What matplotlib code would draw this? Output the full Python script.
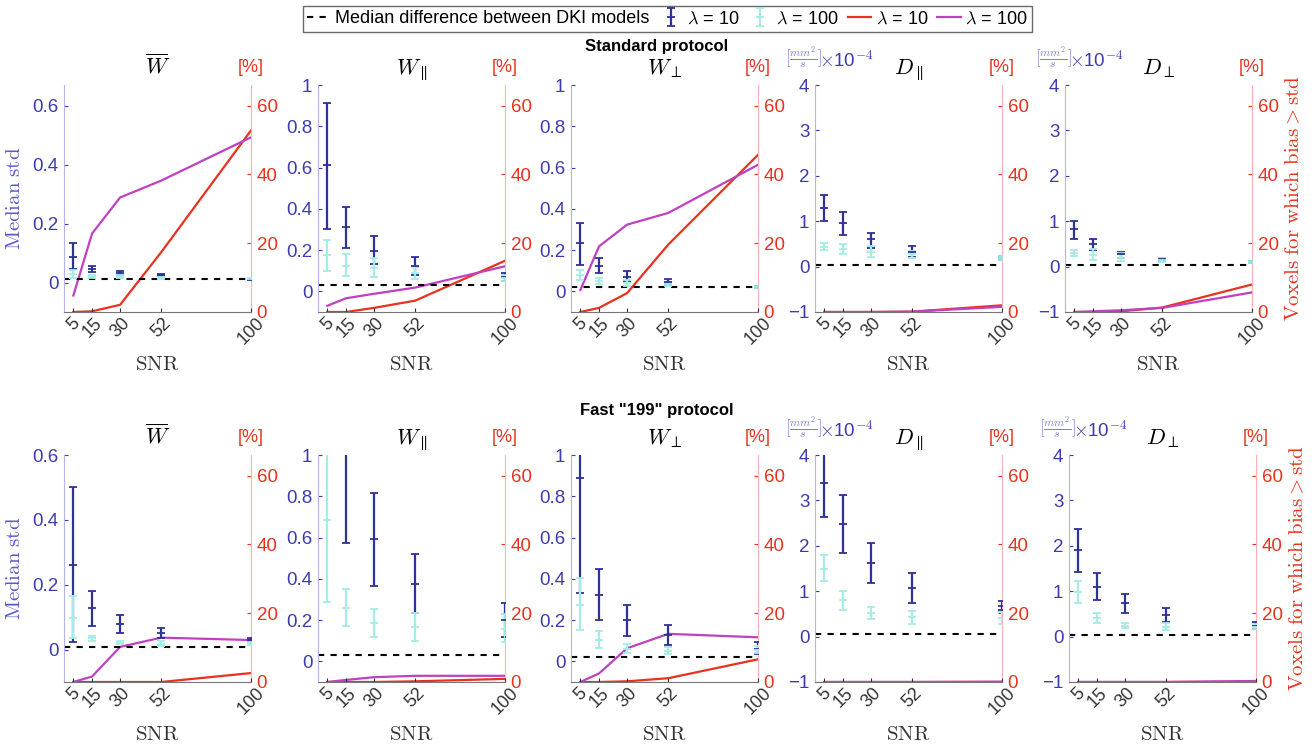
import matplotlib
matplotlib.use('Agg')
import matplotlib.pyplot as plt

plt.rcParams['font.family'] = ['Liberation Sans', 'DejaVu Sans']
plt.rcParams['mathtext.fontset'] = 'cm'

snr = [5, 15, 30, 52, 100]
snr_labels = ['5', '15', '30', '52', '100']
titles = [r'$\overline{W}$', r'$W_{\parallel}$', r'$W_{\perp}$', r'$D_{\parallel}$', r'$D_{\perp}$']
row_titles = ['Standard protocol', 'Fast "199" protocol']
left_ticks = [[0, 0.2, 0.4, 0.6], [0, 0.2, 0.4, 0.6, 0.8, 1], [0, 0.2, 0.4, 0.6, 0.8, 1],
              [-1, 0, 1, 2, 3, 4], [-1, 0, 1, 2, 3, 4]]
left_ylims = [[(-0.1, 0.67), (-0.1, 1), (-0.1, 1), (-1, 4), (-1, 4)],
              [(-0.1, 0.6), (-0.1, 1), (-0.1, 1), (-1, 4), (-1, 4)]]
pct_ticks = [0, 20, 40, 60]

# standard protocol, median std (D in units of 1e-4 mm^2/s)
std_l10_mid = [[0.085, 0.046, 0.032, 0.025, 0.010],
               [0.61, 0.31, 0.198, 0.124, 0.07],
               [0.232, 0.125, 0.072, 0.045, 0.02],
               [1.30, 0.95, 0.60, 0.32, 0.20],
               [0.82, 0.50, 0.28, 0.16, 0.10]]
std_l10_lo = [[0.047, 0.034, 0.025, 0.022, 0.008],
              [0.303, 0.21, 0.134, 0.08, 0.05],
              [0.129, 0.089, 0.051, 0.03, 0.015],
              [1.0, 0.69, 0.42, 0.22, 0.15],
              [0.6, 0.37, 0.2, 0.13, 0.08]]
std_l10_hi = [[0.134, 0.057, 0.039, 0.028, 0.012],
              [0.914, 0.41, 0.266, 0.167, 0.09],
              [0.33, 0.163, 0.10, 0.061, 0.025],
              [1.58, 1.2, 0.75, 0.45, 0.24],
              [1.0, 0.6, 0.33, 0.19, 0.12]]
std_l100_mid = [[0.03, 0.02, 0.02, 0.015, 0.012],
                [0.174, 0.125, 0.115, 0.09, 0.065],
                [0.08, 0.05, 0.04, 0.035, 0.02],
                [0.44, 0.38, 0.32, 0.27, 0.20],
                [0.30, 0.25, 0.20, 0.15, 0.10]]
std_l100_lo = [[0.015, 0.015, 0.015, 0.011, 0.009],
               [0.10, 0.075, 0.07, 0.06, 0.05],
               [0.055, 0.035, 0.025, 0.025, 0.015],
               [0.36, 0.28, 0.22, 0.18, 0.14],
               [0.24, 0.14, 0.12, 0.10, 0.08]]
std_l100_hi = [[0.043, 0.025, 0.025, 0.019, 0.015],
               [0.25, 0.18, 0.16, 0.12, 0.08],
               [0.105, 0.065, 0.055, 0.045, 0.025],
               [0.52, 0.50, 0.45, 0.35, 0.24],
               [0.36, 0.38, 0.30, 0.20, 0.12]]
std_median_diff = [0.012, 0.029, 0.022, 0.04, 0.03]
std_pct_l10 = [[0, 0.2, 2.1, 17.4, 52.8],
               [0, 0, 1.2, 3.3, 14.9],
               [0, 1.2, 5.5, 19.6, 45.7],
               [0, 0, 0, 0.1, 1.95],
               [0, 0, 0.2, 1.3, 8.0]]
std_pct_l100 = [[4.8, 22.8, 33.3, 38.2, 50.8],
                [1.8, 4.0, 5.3, 7.1, 13.3],
                [6.4, 19.1, 25.4, 28.8, 42.8],
                [0, 0, 0, 0.1, 1.5],
                [0, 0.2, 0.5, 1.2, 5.7]]

# fast "199" protocol
fast_l10_mid = [[0.262, 0.129, 0.08, 0.05, 0.03],
                [1.35, 1.05, 0.591, 0.376, 0.2],
                [0.887, 0.321, 0.202, 0.128, 0.061],
                [3.39, 2.47, 1.62, 1.07, 0.68],
                [1.91, 1.1, 0.74, 0.47, 0.24]]
fast_l10_lo = [[0.024, 0.073, 0.05, 0.036, 0.025],
               [1.05, 0.573, 0.365, 0.236, 0.12],
               [0.333, 0.199, 0.123, 0.079, 0.034],
               [2.63, 1.85, 1.17, 0.74, 0.59],
               [1.43, 0.8, 0.51, 0.32, 0.16]]
fast_l10_hi = [[0.502, 0.182, 0.107, 0.067, 0.035],
               [1.7, 1.5, 0.817, 0.519, 0.281],
               [1.05, 0.446, 0.273, 0.176, 0.094],
               [4.2, 3.11, 2.07, 1.40, 0.78],
               [2.37, 1.39, 0.94, 0.63, 0.33]]
fast_l100_mid = [[0.098, 0.036, 0.021, 0.018, 0.018],
                 [0.683, 0.26, 0.186, 0.168, 0.155],
                 [0.275, 0.103, 0.061, 0.05, 0.055],
                 [1.5, 0.8, 0.53, 0.44, 0.42],
                 [0.99, 0.4, 0.24, 0.22, 0.22]]
fast_l100_lo = [[0.036, 0.026, 0.017, 0.012, 0.013],
                [0.286, 0.171, 0.118, 0.099, 0.094],
                [0.15, 0.065, 0.039, 0.035, 0.04],
                [1.22, 0.58, 0.38, 0.28, 0.28],
                [0.74, 0.29, 0.18, 0.15, 0.16]]
fast_l100_hi = [[0.164, 0.043, 0.025, 0.025, 0.023],
                [1.05, 0.35, 0.252, 0.236, 0.228],
                [0.405, 0.145, 0.082, 0.07, 0.075],
                [1.8, 1.0, 0.66, 0.57, 0.55],
                [1.23, 0.51, 0.31, 0.3, 0.28]]
fast_median_diff = [0.008, 0.029, 0.023, 0.05, 0.03]
fast_pct_l10 = [[0, 0, 0, 0, 2.6],
                [0, 0, 0, 0.2, 0.9],
                [0, 0, 0.2, 1.1, 6.6],
                [0, 0, 0, 0, 0],
                [0, 0, 0, 0, 0.1]]
fast_pct_l100 = [[0, 1.6, 10.2, 12.9, 12.2],
                 [0, 0.6, 1.4, 1.8, 1.8],
                 [0, 2.5, 9.8, 14.0, 13.0],
                 [0, 0, 0, 0, 0.1],
                 [0, 0, 0, 0, 0.3]]

rows = [
    (std_l10_mid, std_l10_lo, std_l10_hi, std_l100_mid, std_l100_lo, std_l100_hi,
     std_median_diff, std_pct_l10, std_pct_l100),
    (fast_l10_mid, fast_l10_lo, fast_l10_hi, fast_l100_mid, fast_l100_lo, fast_l100_hi,
     fast_median_diff, fast_pct_l10, fast_pct_l100),
]

DARK = '#2e3296'
CYAN = '#a6ece4'
RED = '#e8321e'
MAG = '#c040c0'
BLUE_TXT = '#3c3cb0'

W, H = 1314, 747
fig = plt.figure(figsize=(W / 100, H / 100), dpi=100)

lefts = [[64, 318, 571, 815, 1065], [64, 318, 571, 815, 1069]]
tops = [85, 455]
pw, ph = 187, 227


def fmt_tick(t):
    if t == -1:
        return '\u22121'
    return f'{t:g}'


handles = None
for r, row in enumerate(rows):
    l10m, l10lo, l10hi, l100m, l100lo, l100hi, mdiff, p10, p100 = row
    for i in range(5):
        x0 = lefts[r][i]
        ax = fig.add_axes([x0 / W, 1 - (tops[r] + ph) / H, pw / W, ph / H])
        ax2 = ax.twinx()
        ax.set_zorder(ax2.get_zorder() + 1)
        ax.patch.set_visible(False)

        hd = ax.axhline(mdiff[i], color='black', ls='--', lw=1.5, dashes=(3, 3))
        e10 = ax.errorbar(snr, l10m[i],
                          yerr=[[m - lo for m, lo in zip(l10m[i], l10lo[i])],
                                [hi - m for m, hi in zip(l10m[i], l10hi[i])]],
                          fmt='_', color=DARK, ms=6, mew=1.3, elinewidth=1.6, capsize=3, capthick=1.3)
        e100 = ax.errorbar(snr, l100m[i],
                           yerr=[[m - lo for m, lo in zip(l100m[i], l100lo[i])],
                                 [hi - m for m, hi in zip(l100m[i], l100hi[i])]],
                           fmt='_', color=CYAN, ms=6, mew=1.3, elinewidth=1.6, capsize=3, capthick=1.3)
        lr, = ax2.plot(snr, p10[i], color=RED, lw=1.6)
        lm, = ax2.plot(snr, p100[i], color=MAG, lw=1.6)
        if handles is None:
            handles = [hd, e10, e100, lr, lm]

        ax.set_xlim(0, 100)
        ax.set_ylim(*left_ylims[r][i])
        ax.set_yticks(left_ticks[i])
        ax.set_yticklabels([fmt_tick(t) for t in left_ticks[i]])
        ax2.set_ylim(0, 66)
        ax2.set_yticks(pct_ticks)

        ax.set_xticks(snr)
        ax.set_xticklabels(snr_labels, rotation=45, ha='center', va='top', fontsize=13)
        ax.tick_params(axis='x', direction='in', length=3, pad=2, colors='#333333')
        ax.tick_params(axis='y', direction='in', length=3, labelsize=13.5, colors=BLUE_TXT, pad=4)
        ax2.tick_params(axis='y', direction='in', length=3, labelsize=13.5, colors=RED, pad=4)

        for a in (ax, ax2):
            a.spines['top'].set_visible(False)
        ax.spines['right'].set_visible(False)
        ax2.spines['left'].set_visible(False)
        ax2.spines['bottom'].set_visible(False)
        ax.spines['left'].set_color('#b4b4e6')
        ax2.spines['right'].set_color('#ffb0b0')
        ax.spines['bottom'].set_color('#777777')

        ax.set_title(titles[i], fontsize=16, pad=8)
        ax.set_xlabel(r'$\mathrm{SNR}$', fontsize=15, color='#333333', labelpad=5)
        ax2.text(1.0, 1.04, '[%]', transform=ax2.transAxes, color=RED, fontsize=13,
                 ha='center', va='bottom')

        if i == 0:
            ax.set_ylabel(r'$\mathrm{Median\ std}$', fontsize=15, color='#5a5ac8', labelpad=6)
        if i == 4:
            ax2.set_ylabel(r'$\mathrm{Voxels\ for\ which\ bias} > \mathrm{std}$',
                           fontsize=15, color=RED, labelpad=4)
        if i >= 3:
            ax.text(0.04, 1.065, r'$[\frac{mm^2}{s}]$', transform=ax.transAxes, color='#8080d0',
                    fontsize=12, ha='right', va='bottom')
            ax.text(0.02, 1.06, r'$\times$10$^{-4}$', transform=ax.transAxes, color=BLUE_TXT,
                    fontsize=13.5, ha='left', va='bottom')

    fig.text(0.5, 1 - (47 if r == 0 else 411) / H, row_titles[r], ha='center', va='center',
             fontsize=12, fontweight='bold')

leg = fig.legend(handles, ['Median difference between DKI models', r'$\lambda$ = 10', r'$\lambda$ = 100',
                           r'$\lambda$ = 10', r'$\lambda$ = 100'],
                 loc='upper center', bbox_to_anchor=(0.508, 0.997), ncol=5, fontsize=13,
                 frameon=True, fancybox=False, edgecolor='#444444', handlelength=1.3,
                 columnspacing=0.5, handletextpad=0.25, borderpad=0.25, borderaxespad=0.2)
leg.get_frame().set_linewidth(1.0)

fig.savefig('out.png', dpi=100)
